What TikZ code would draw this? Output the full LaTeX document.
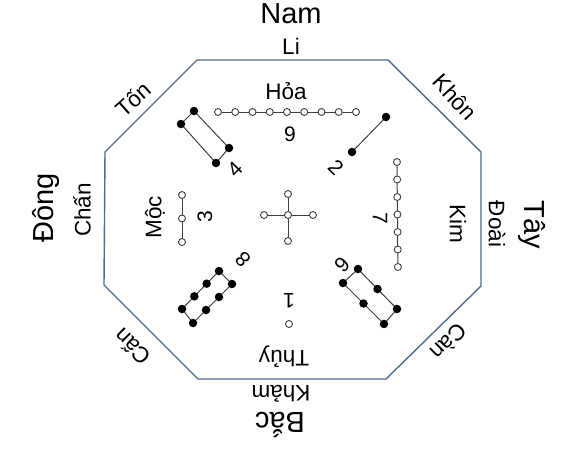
\documentclass[tikz,border=0pt]{standalone}
\usepackage{fontspec}
\setmainfont{Liberation Sans}
\usetikzlibrary{calc}
\begin{document}
\begin{tikzpicture}[x=1pt,y=-1pt,
  edge/.style={draw=octc,line width=1.4pt,line join=miter},
  big/.style={font=\fontsize{29}{29}\selectfont,inner sep=0pt},
  mid/.style={font=\fontsize{22.5}{22.5}\selectfont,inner sep=0pt},
  num/.style={font=\fontsize{21}{21}\selectfont,inner sep=0pt},
  hol/.style={circle,draw=black!75,fill=white,line width=0.9pt,minimum size=7pt,inner sep=0pt},
  blk/.style={circle,fill=black,minimum size=8.5pt,inner sep=0pt},
  bar/.style={draw=black!75,line width=1pt}]
\definecolor{octc}{HTML}{506A88}
\useasboundingbox (0,0) rectangle (575,455);
% octagon
\draw[edge] (197,60) -- (388,60) -- (481,152) -- (481,286) -- (386,379) -- (198,379) -- (104,285) -- (105,152) -- cycle;
% outer labels
\node[big] (nam) at (291,14) {Nam};
\node[big,rotate=90] (dong) at (46,208) {Đông};
\node[big,rotate=-90] (tay) at (532,225) {Tây};
\node[big,rotate=180] (bac) at (280,425) {Bắc};
\node[mid] (li) at (291,46) {Li};
\node[mid,rotate=42] (ton) at (133,99) {Tốn};
\node[mid,rotate=-48] (khon) at (455,97) {Khôn};
\node[mid,rotate=90] (chan) at (82,210) {Chấn};
\node[mid,rotate=-90] (doai) at (497,224) {Đoài};
\node[mid,rotate=135] (can1) at (132,347) {Cấn};
\node[mid,rotate=-135] (can2) at (449,342) {Càn};
\node[mid,rotate=180] (kham) at (281,394) {Khảm};
% inner labels
\node[mid] (hoa) at (286,91) {Hỏa};
\node[mid,rotate=90] (moc) at (155,217) {Mộc};
\node[mid,rotate=-90] (kim) at (458,224) {Kim};
\node[mid,rotate=180] (thuy) at (284,357) {Thủy};
% numbers
\node[num] (n9) at (290,134) {9};
\node[num,rotate=45] (n4) at (235,169) {4};
\node[num,rotate=-45] (n2) at (336,167) {2};
\node[num,rotate=90] (n3) at (205,217) {3};
\node[num,rotate=-90] (n7) at (380,218) {7};
\node[num,rotate=135] (n8) at (243,259) {8};
\node[num,rotate=-135] (n6) at (342,265) {6};
\node[num,rotate=180] (n1) at (289,301) {1};
% 9 : top
\foreach \i in {0,...,8} \coordinate (t\i) at ({218+\i*17.25},112);
\draw[bar] (t0) -- (t8);
\foreach \i in {0,...,8} \node[hol] at (t\i) {};
% 4 : top-left
\coordinate (a1) at (194,111); \coordinate (a2) at (229,148);
\coordinate (a3) at (216,163); \coordinate (a4) at (181,124);
\draw[bar] (a1) -- (a2) -- (a3) -- (a4) -- cycle;
\foreach \p in {a1,a2,a3,a4} \node[blk] at (\p) {};
% 2 : top-right
\coordinate (b1) at (386,117); \coordinate (b2) at (352,152);
\draw[bar] (b1) -- (b2);
\foreach \p in {b1,b2} \node[blk] at (\p) {};
% 7 : right
\foreach \i in {0,...,6} \coordinate (r\i) at ({397+\i*0.15},{162+\i*17.5});
\draw[bar] (r0) -- (r6);
\foreach \i in {0,...,6} \node[hol] at (r\i) {};
% 3 : left
\foreach \i in {0,1,2} \coordinate (l\i) at (182,{195+\i*23.5});
\draw[bar] (l0) -- (l2);
\foreach \i in {0,1,2} \node[hol] at (l\i) {};
% 5 : centre
\coordinate (c0) at (288,215);
\coordinate (cl) at (264,215); \coordinate (cr) at (313,215);
\coordinate (ct) at (288,194); \coordinate (cb) at (288,241);
\draw[bar] (cl) -- (cr) (ct) -- (cb);
\foreach \p in {c0,cl,cr,ct,cb} \node[hol] at (\p) {};
% 1 : bottom
\node[hol] (one) at (289,324) {};
% 8 : bottom-left
\coordinate (e1) at (219,271); \coordinate (e2) at (232,284);
\coordinate (e3) at (193,323); \coordinate (e4) at (182,309);
\draw[bar] (e1) -- (e2) -- (e3) -- (e4) -- cycle;
\foreach \t in {0,1,2,3} {
  \node[blk] at ($(e1)!\t/3!(e4)$) {};
  \node[blk] at ($(e2)!\t/3!(e3)$) {};
}
% 6 : bottom-right
\coordinate (f1) at (358,269); \coordinate (f2) at (397,309);
\coordinate (f3) at (384,324); \coordinate (f4) at (343,283);
\draw[bar] (f1) -- (f2) -- (f3) -- (f4) -- cycle;
\foreach \t in {0,1,2} {
  \node[blk] at ($(f1)!\t/2!(f2)$) {};
  \node[blk] at ($(f4)!\t/2!(f3)$) {};
}
\end{tikzpicture}
\end{document}
